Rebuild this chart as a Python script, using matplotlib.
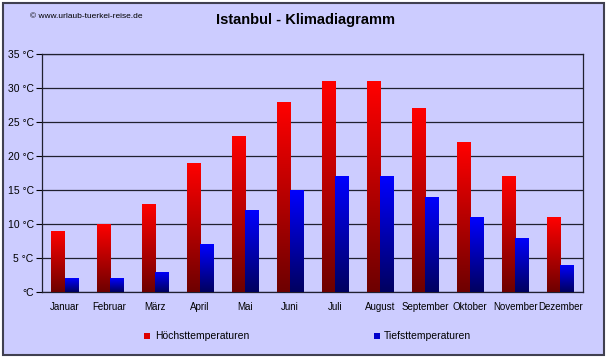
import matplotlib.pyplot as plt
import numpy as np
from matplotlib.colors import LinearSegmentedColormap
from matplotlib.patches import Rectangle

months = ["Januar", "Februar", "März", "April", "Mai", "Juni", "Juli",
          "August", "September", "Oktober", "November", "Dezember"]
high = [9, 10, 13, 19, 23, 28, 31, 31, 27, 22, 17, 11]
low = [2, 2, 3, 7, 12, 15, 17, 17, 14, 11, 8, 4]
yticks = [0, 5, 10, 15, 20, 25, 30, 35]
ytick_labels = ["°C", "5 °C", "10 °C", "15 °C", "20 °C", "25 °C", "30 °C", "35 °C"]

bg = "#ccccff"
red_cmap = LinearSegmentedColormap.from_list("r", ["#6e0000", "#ff0000"])
blue_cmap = LinearSegmentedColormap.from_list("b", ["#000060", "#0000ff"])

fig = plt.figure(figsize=(6.10, 3.61), dpi=100)
fig.patch.set_facecolor("white")
fig.patches.append(Rectangle((3 / 610, 1 - 355 / 361), 601 / 610, 352 / 361,
                             transform=fig.transFigure, facecolor=bg,
                             edgecolor="#404050", linewidth=1.5, zorder=-5))

ax = fig.add_axes([42 / 610, 1 - 292 / 361, 541 / 610, 238 / 361])
ax.set_zorder(2)
ax.set_facecolor(bg)

x = np.arange(len(months))
w = 0.29
grad = np.linspace(0, 1, 100).reshape(-1, 1)
for vals, off, cmap in [(high, -w / 2, red_cmap), (low, w / 2, blue_cmap)]:
    bars = ax.bar(x + off, vals, width=w, color="none", edgecolor="none", zorder=3)
    for b in bars:
        bx, bw, bh = b.get_x(), b.get_width(), b.get_height()
        im = ax.imshow(grad, cmap=cmap, origin="lower", aspect="auto",
                       extent=(bx, bx + bw, 0, bh), zorder=3)
        im.set_clip_path(b)

ax.set_xlim(-0.5, len(months) - 0.5)
ax.set_ylim(0, 35)
ax.set_yticks(yticks)
ax.set_yticklabels(ytick_labels, fontsize=7.5, family="Liberation Sans")
ax.set_xticks(x)
ax.set_xticklabels(months, fontsize=7, family="Liberation Sans")
ax.tick_params(axis="x", length=0, pad=7)
ax.tick_params(axis="y", length=4, width=0.8, color="black", pad=2)
ax.yaxis.grid(True, color="#202030", linewidth=0.9)
ax.set_axisbelow(True)
for s in ax.spines.values():
    s.set_color("#202030")
    s.set_linewidth(0.9)

fig.text(305 / 610, 1 - 20 / 361, "Istanbul - Klimadiagramm", ha="center", va="center",
         fontsize=10.5, fontweight="bold", family="Liberation Sans")
fig.text(30 / 610, 1 - 17 / 361, "© www.urlaub-tuerkei-reise.de", ha="left", va="center",
         fontsize=6, family="Liberation Sans")

fig.patches.append(Rectangle((144 / 610, 1 - 339 / 361), 6 / 610, 6 / 361,
                             transform=fig.transFigure, facecolor="#dd0000", edgecolor="none"))
fig.text(155 / 610, 1 - 336 / 361, "Höchsttemperaturen", ha="left", va="center",
         fontsize=7.5, family="Liberation Sans")
fig.patches.append(Rectangle((374 / 610, 1 - 339 / 361), 6 / 610, 6 / 361,
                             transform=fig.transFigure, facecolor="#0000cc", edgecolor="none"))
fig.text(384 / 610, 1 - 336 / 361, "Tiefsttemperaturen", ha="left", va="center",
         fontsize=7.5, family="Liberation Sans")

fig.savefig("out.png", dpi=100)
